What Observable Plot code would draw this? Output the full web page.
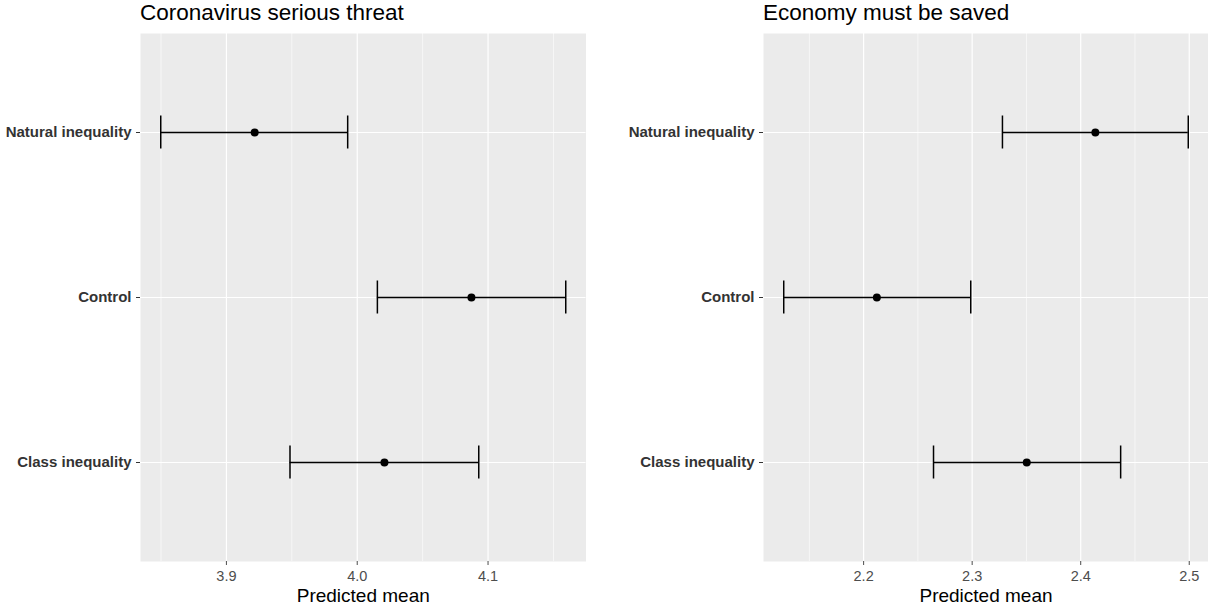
<!DOCTYPE html>
<html><head><meta charset="utf-8">
<script src="https://cdn.jsdelivr.net/npm/d3@7"></script>
<script src="https://cdn.jsdelivr.net/npm/@observablehq/plot@0.6"></script>
<style>
body{margin:0;background:#fff;font-family:"Liberation Sans",Arial,sans-serif;}
#wrap{display:flex;width:1208px;height:607px;overflow:hidden}
.panel{width:604px;flex:none;position:relative}
.title{height:33px;font-size:22.5px;line-height:22px;padding-top:2px;box-sizing:border-box;color:#000;white-space:nowrap}
svg{display:block}
</style></head><body>
<div id="wrap">
<div class="panel" id="p1"><div class="title" style="padding-left:140px">Coronavirus serious threat</div></div>
<div class="panel" id="p2"><div class="title" style="padding-left:159px">Economy must be saved</div></div>
</div>
<script>
const conditions = ["Natural inequality", "Control", "Class inequality"];
const threatMean  = [3.9216, 4.0873, 4.0208];
const threatLower = [3.8498, 4.0154, 3.9486];
const threatUpper = [3.9927, 4.1594, 4.0929];
const economyMean  = [2.4135, 2.2122, 2.3503];
const economyLower = [2.3279, 2.1264, 2.2644];
const economyUpper = [2.4991, 2.2987, 2.4368];
const threatTicks = [3.9, 4.0, 4.1];
const threatMinor = [3.85, 3.95, 4.05, 4.15];
const economyTicks = [2.2, 2.3, 2.4, 2.5];
const economyMinor = [2.15, 2.25, 2.35, 2.45];
const xLabel = "Predicted mean";

function panel(mean, lower, upper, ticks, minor, ml, mr) {
  const data = conditions.map((c, i) => ({condition: c, mean: mean[i], lower: lower[i], upper: upper[i]}));
  const lo = d3.min(lower), hi = d3.max(upper), pad = (hi - lo) * 0.05;
  return Plot.plot({
    width: 604, height: 574, marginTop: 0, marginBottom: 46, marginLeft: ml, marginRight: mr,
    style: {fontFamily: '"Liberation Sans", Arial, sans-serif', background: "transparent", overflow: "visible"},
    x: {domain: [lo - pad, hi + pad]},
    y: {type: "band", domain: conditions, paddingInner: 0.8, paddingOuter: 0.5, align: 0.5, round: false},
    marks: [
      Plot.frame({fill: "#EBEBEB"}),
      Plot.ruleX(minor, {stroke: "#fff", strokeWidth: 0.6}),
      Plot.ruleX(ticks, {stroke: "#fff", strokeWidth: 1.2}),
      Plot.ruleY(conditions, {stroke: "#fff", strokeWidth: 1.2}),
      Plot.axisX({ticks: ticks, tickSize: 4, tickPadding: 5, fontSize: 14.5, color: "#4D4D4D", label: null, tickFormat: d3.format(".1f")}),
      Plot.axisY({tickSize: 4, tickPadding: 5, fontSize: 15, fontWeight: "bold", color: "#333", label: null}),
      Plot.text([xLabel], {frameAnchor: "bottom", dy: 34, fontSize: 19, fill: "#000", lineAnchor: "middle"}),
      Plot.ruleY(data, {y: "condition", x1: "lower", x2: "upper", stroke: "#000", strokeWidth: 1.5}),
      Plot.tickX(data, {x: "lower", y: "condition", stroke: "#000", strokeWidth: 1.5}),
      Plot.tickX(data, {x: "upper", y: "condition", stroke: "#000", strokeWidth: 1.5}),
      Plot.dot(data, {x: "mean", y: "condition", r: 4, fill: "#000", stroke: "none"})
    ]
  });
}

document.getElementById("p1").appendChild(panel(threatMean, threatLower, threatUpper, threatTicks, threatMinor, 140, 18.5));
document.getElementById("p2").appendChild(panel(economyMean, economyLower, economyUpper, economyTicks, economyMinor, 159, 0));
</script>
</body></html>
